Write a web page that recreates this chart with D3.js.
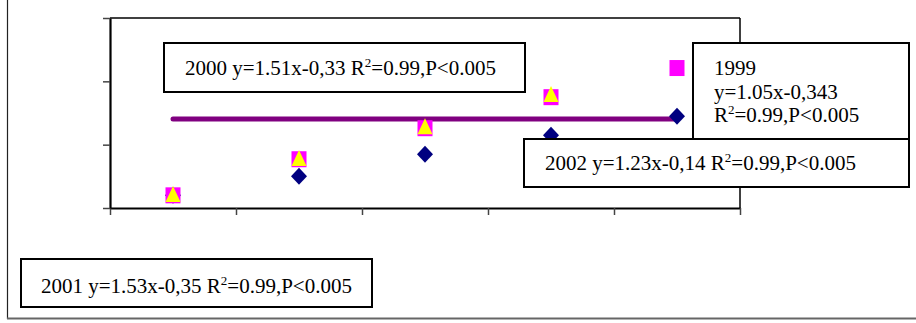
<!DOCTYPE html>
<html>
<head>
<meta charset="utf-8">
<script src="https://cdn.jsdelivr.net/npm/d3@7"></script>
<style>
  body { margin: 0; background: #fff; }
  svg { display: block; }
  text { font-family: "Liberation Serif", "Times New Roman", serif; font-size: 21px; fill: #000; }
  .sup { font-size: 13px; }
</style>
</head>
<body>
<svg width="916" height="323"></svg>
<script>
// category positions (no labels shown on the axis)
var categories = [1, 2, 3, 4, 5];
var yTicks = [0, 1, 2, 3];

// series values
var s1999 = [0.2, 0.5, 0.85, 1.15, 1.45];    // navy diamonds
var s2000 = [0.2, 0.77, 1.26, 1.75, 2.21];   // magenta squares
var s2001 = [0.22, 0.79, 1.29, 1.8, null];   // yellow triangles
var meanLine = [1.405, 1.405, 1.405, 1.405, 1.405]; // purple line

var lt = "\u003c";
var labels = [
  { x: 164, y: 43, w: 361, h: 49, tx: 185, ty: 75,
    lines: [["2000 y=1.51x-0,33 R", "=0.99,P" + lt + "0.005"]] },
  { x: 693, y: 43, w: 216, h: 96, tx: 714, ty: 75,
    lines: [["1999"], ["y=1.05x-0,343"], ["R", "=0.99,P" + lt + "0.005"]] },
  { x: 524, y: 139, w: 385, h: 48, tx: 545, ty: 170,
    lines: [["2002 y=1.23x-0,14 R", "=0.99,P" + lt + "0.005"]] },
  { x: 21, y: 259, w: 351, h: 48, tx: 41, ty: 293,
    lines: [["2001 y=1.53x-0,35 R", "=0.99,P" + lt + "0.005"]] }
];

var svg = d3.select("svg"),
  width = +svg.attr("width"),
  height = +svg.attr("height");

// outer frame (only left and bottom edges visible)
svg.append("line").attr("x1", 7.5).attr("x2", 7.5).attr("y1", 0).attr("y2", 319)
  .attr("stroke", "#222").attr("stroke-width", 1.2);
svg.append("line").attr("x1", 7).attr("x2", width).attr("y1", 318.5).attr("y2", 318.5)
  .attr("stroke", "#666").attr("stroke-width", 2);

var plot = { left: 110, right: 740, top: 18, bottom: 208 };

var x = d3.scaleLinear().domain([0, categories.length]).range([plot.left, plot.right]);
var y = d3.scaleLinear().domain([0, 3]).range([plot.bottom, plot.top]);

function cx(i) { return x(i + 0.5); }

// plot area border top / right
svg.append("line").attr("x1", plot.left).attr("x2", plot.right)
  .attr("y1", plot.top).attr("y2", plot.top).attr("stroke", "#000").attr("stroke-width", 1.5);
svg.append("line").attr("x1", plot.right).attr("x2", plot.right)
  .attr("y1", plot.top).attr("y2", plot.bottom).attr("stroke", "#000").attr("stroke-width", 1.5);

// axes
var xAxis = svg.append("g")
  .attr("transform", "translate(0," + plot.bottom + ")")
  .call(d3.axisBottom(x).tickValues(d3.range(0, categories.length + 1)).tickFormat("").tickSize(7).tickSizeOuter(0));
var yAxis = svg.append("g")
  .attr("transform", "translate(" + plot.left + ",0)")
  .call(d3.axisLeft(y).tickValues(yTicks).tickFormat("").tickSize(7).tickSizeOuter(0));

xAxis.select(".domain").attr("stroke", "#000").attr("stroke-width", 2.2);
yAxis.select(".domain").attr("stroke", "#000").attr("stroke-width", 2.2);
svg.selectAll(".tick line").attr("stroke", "#444").attr("stroke-width", 1.5);

// purple line
var line = d3.line()
  .x(function (d, i) { return cx(i); })
  .y(function (d) { return y(d); });
svg.append("path")
  .datum(meanLine)
  .attr("d", line)
  .attr("fill", "none")
  .attr("stroke", "#800080")
  .attr("stroke-width", 5)
  .attr("stroke-linecap", "round");

function pts(data) {
  return data.map(function (v, i) { return { i: i, v: v }; })
    .filter(function (d) { return d.v != null; });
}

// diamonds 1999
svg.append("g").selectAll("path")
  .data(pts(s1999)).enter().append("path")
  .attr("d", "M0,-8.5L8,0L0,8.5L-8,0Z")
  .attr("transform", function (d) { return "translate(" + cx(d.i) + "," + y(d.v) + ")"; })
  .attr("fill", "#000080");

// squares 2000
svg.append("g").selectAll("rect")
  .data(pts(s2000)).enter().append("rect")
  .attr("x", function (d) { return cx(d.i) - 7.5; })
  .attr("y", function (d) { return y(d.v) - 8; })
  .attr("width", 15).attr("height", 16)
  .attr("fill", "#ff00ff");

// triangles 2001
svg.append("g").selectAll("path")
  .data(pts(s2001)).enter().append("path")
  .attr("d", "M0,-8L7.5,8L-7.5,8Z")
  .attr("transform", function (d) { return "translate(" + cx(d.i) + "," + y(d.v) + ")"; })
  .attr("fill", "#ffff00");

// annotation boxes
labels.forEach(function (b) {
  var g = svg.append("g");
  g.append("rect").attr("x", b.x).attr("y", b.y).attr("width", b.w).attr("height", b.h)
    .attr("fill", "#fff").attr("stroke", "#000").attr("stroke-width", 2);
  b.lines.forEach(function (parts, k) {
    var t = g.append("text").attr("x", b.tx).attr("y", b.ty + k * 23.5);
    t.append("tspan").text(parts[0]);
    if (parts.length > 1) {
      t.append("tspan").attr("class", "sup").attr("dy", -8).text("2");
      t.append("tspan").attr("dy", 8).text(parts[1]);
    }
  });
});
</script>
</body>
</html>
